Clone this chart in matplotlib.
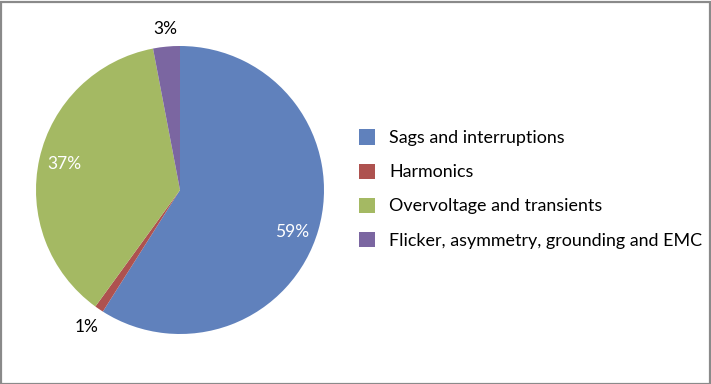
import matplotlib
matplotlib.use("Agg")
import matplotlib.pyplot as plt
from matplotlib.patches import Rectangle, Patch
import numpy as np

categories = ["Sags and interruptions", "Harmonics", "Overvoltage and transients",
              "Flicker, asymmetry, grounding and EMC"]
values = [59, 1, 37, 3]
labels = ["59%", "1%", "37%", "3%"]
colors = ["#6081BC", "#AE524F", "#A4B963", "#7B66A1"]
label_colors = ["white", "black", "white", "black"]
label_dist = [0.83, 1.15, 0.82, 1.12]
label_shift = [-4.4, 0, 0, 0]

plt.rcParams['font.family'] = ['Lato', 'DejaVu Sans']

W, H = 711, 384
fig = plt.figure(figsize=(W / 100, H / 100), dpi=100)
fig.patch.set_facecolor("white")

ax = fig.add_axes([36 / W, (H - 334) / H, 288 / W, 288 / H])
wedges, _ = ax.pie(values, colors=colors, startangle=90, counterclock=False,
                   wedgeprops=dict(linewidth=0))
for w in wedges:
    w.set_clip_on(False)
ax.set_xlim(-1, 1)
ax.set_ylim(-1, 1)
ax.set_aspect("equal")
ax.axis("off")

for w, lab, c, d, s in zip(wedges, labels, label_colors, label_dist, label_shift):
    mid = np.deg2rad((w.theta1 + w.theta2) / 2 + s)
    ax.text(d * np.cos(mid), d * np.sin(mid), lab, color=c, fontsize=12.5,
            ha="center", va="center")

handles = [Patch(facecolor=c, edgecolor="none") for c in colors]
fig.legend(handles, categories, loc="upper left", bbox_to_anchor=(359 / W, 1 - 129.5 / H),
           frameon=False, fontsize=12.9, handlelength=0.92, handleheight=0.92,
           handletextpad=0.75, labelspacing=0.97, borderpad=0, borderaxespad=0)

fig.add_artist(Rectangle((1.5 / W, 0.5 / H), (W - 3) / W, (H - 2.5) / H,
                         transform=fig.transFigure, fill=False,
                         edgecolor="#8a8a8a", linewidth=1.6))

fig.savefig("out.png", dpi=100, facecolor="white")
